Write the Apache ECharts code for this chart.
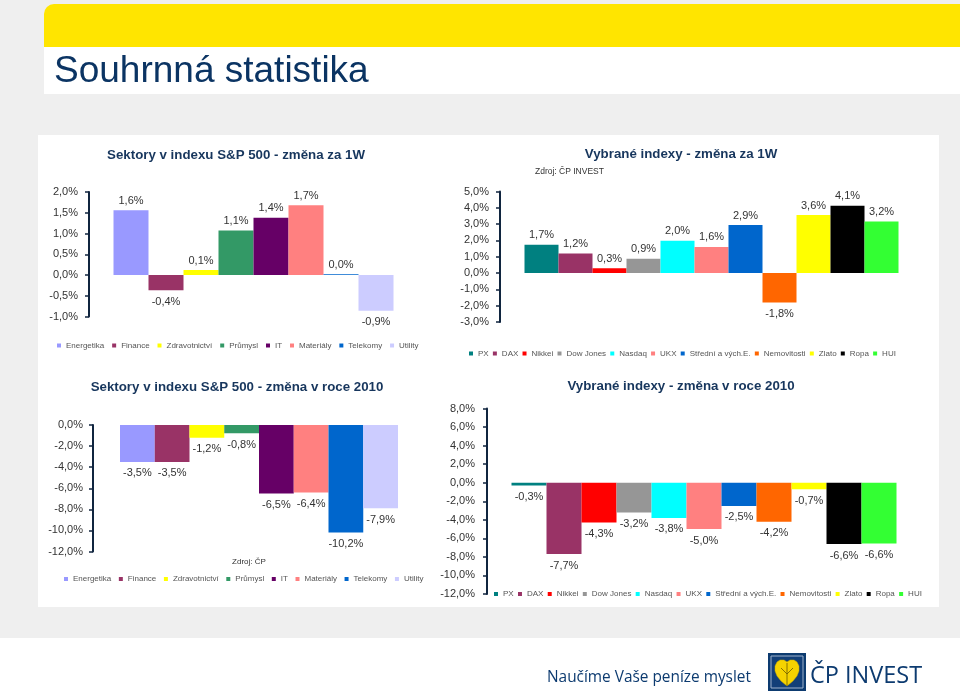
<!DOCTYPE html>
<html>
<head>
<meta charset="utf-8">
<script src="https://cdn.jsdelivr.net/npm/echarts@6/dist/echarts.min.js"></script>
<style>
html,body{margin:0;padding:0;background:#efefef;}
#c{width:960px;height:692px;}
</style>
</head>
<body>
<div id="c"></div>
<script>
// ---------- data ----------
const sectors = ['Energetika','Finance','Zdravotnictví','Průmysl','IT','Materiály','Telekomy','Utility'];
const sectorWeek = [1.56, -0.37, 0.12, 1.07, 1.38, 1.68, 0.02, -0.86];
const sectorYear = [-3.5, -3.5, -1.2, -0.78, -6.5, -6.4, -10.2, -7.9];

const indices = ['PX','DAX','Nikkei','Dow Jones','Nasdaq','UKX','Střední a vých.E.','Nemovitosti','Zlato','Ropa','HUI'];
const indexWeek = [1.74, 1.2, 0.3, 0.88, 1.98, 1.6, 2.94, -1.8, 3.56, 4.13, 3.16];
const indexYear = [-0.3, -7.7, -4.3, -3.2, -3.8, -5.0, -2.5, -4.2, -0.7, -6.62, -6.56];

const ticksSectorWeek = [-1.0, -0.5, 0.0, 0.5, 1.0, 1.5, 2.0];
const ticksIndexWeek = [-3.0, -2.0, -1.0, 0.0, 1.0, 2.0, 3.0, 4.0, 5.0];
const ticksSectorYear = [-12.0, -10.0, -8.0, -6.0, -4.0, -2.0, 0.0];
const ticksIndexYear = [-12.0, -10.0, -8.0, -6.0, -4.0, -2.0, 0.0, 2.0, 4.0, 6.0, 8.0];

// ---------- styles ----------
const sectorColors = ['#9999FF','#993366','#FFFF00','#339966','#660066','#FF8080','#0066CC','#CCCCFF'];
const indexColors = ['#008080','#993366','#FF0000','#969696','#00FFFF','#FF8080','#0066CC','#FF6600','#FFFF00','#000000','#33FF33'];
const FONT = '"Liberation Sans", Arial, sans-serif';
const NAVY = '#17365D';
const AXIS = '#10253F';

function fmt(v){
  return (v < 0 ? '-' : '') + Math.abs(v).toFixed(1).replace('.', ',') + '%';
}

const gridsDef = [
  {left: 89, top: 192, width: 329, height: 124.5, ticks: ticksSectorWeek, margin: 11, barW: 35},
  {left: 500, top: 191.5, width: 423, height: 130.5, ticks: ticksIndexWeek, margin: 11, barW: 34},
  {left: 93, top: 425, width: 332, height: 126.5, ticks: ticksSectorYear, margin: 10, barW: 34.75},
  {left: 487, top: 408.5, width: 434, height: 185.5, ticks: ticksIndexYear, margin: 12, barW: 35}
];

const grid = gridsDef.map(g => ({left: g.left, top: g.top, width: g.width, height: g.height, containLabel: false}));
const xAxis = gridsDef.map((g, i) => ({type: 'category', gridIndex: i, data: [''], show: false}));
const yAxis = gridsDef.map((g, i) => ({
  type: 'value', gridIndex: i,
  min: g.ticks[0], max: g.ticks[g.ticks.length - 1], interval: g.ticks[1] - g.ticks[0],
  axisLine: {show: true, lineStyle: {color: AXIS, width: 2}},
  axisTick: {show: true, inside: false, length: 4, lineStyle: {color: AXIS, width: 1.5}},
  splitLine: {show: false},
  axisLabel: {formatter: v => fmt(v), fontSize: 11, color: '#333', fontFamily: FONT, margin: g.margin}
}));

function bars(names, values, colors, gi){
  return names.map((n, i) => ({
    type: 'bar', name: n, xAxisIndex: gi, yAxisIndex: gi,
    barWidth: gridsDef[gi].barW, barGap: '0%',
    itemStyle: {color: colors[i]},
    label: {show: true, fontSize: 11, color: '#333', fontFamily: FONT, formatter: p => fmt(p.value)},
    data: [{value: values[i], label: {position: values[i] < 0 ? 'bottom' : 'top', distance: values[i] < 0 ? 6 : 4}}]
  }));
}

const series = [].concat(
  bars(sectors, sectorWeek, sectorColors, 0),
  bars(indices, indexWeek, indexColors, 1),
  bars(sectors, sectorYear, sectorColors, 2),
  bars(indices, indexYear, indexColors, 3)
);

function legend(data, left, top, gap){
  return {data: data, left: left, top: top, padding: 0, itemWidth: 4, itemHeight: 4, itemGap: gap,
    icon: 'rect', selectedMode: false,
    textStyle: {fontSize: 8, color: '#555', fontFamily: FONT}};
}

function txt(text, x, y, size, opts){
  return {type: 'text', z: 5, style: Object.assign({text: text, x: x, y: y, fontSize: size,
    fontFamily: FONT, fill: NAVY, align: 'center', verticalAlign: 'middle'}, opts || {})};
}

const graphic = [
  {type: 'rect', z: -10, shape: {x: 44, y: 4, width: 916, height: 43, r: [10, 0, 0, 0]}, style: {fill: '#FFE500'}},
  {type: 'rect', z: -10, shape: {x: 44, y: 47, width: 916, height: 47}, style: {fill: '#FFFFFF'}},
  {type: 'rect', z: -10, shape: {x: 38, y: 135, width: 901, height: 472}, style: {fill: '#FFFFFF'}},
  {type: 'rect', z: -10, shape: {x: 0, y: 638, width: 960, height: 54}, style: {fill: '#FFFFFF'}},
  txt('Souhrnná statistika', 54, 72, 37, {align: 'left', fill: '#0B3463'}),
  txt('Sektory v indexu S&P 500 - změna za 1W', 236, 155, 13.3, {fontWeight: 'bold'}),
  txt('Vybrané indexy - změna za 1W', 681, 154, 13.3, {fontWeight: 'bold'}),
  txt('Zdroj: ČP INVEST', 535, 172, 8.5, {align: 'left', fill: '#333'}),
  txt('Sektory v indexu S&P 500 - změna v roce 2010', 237, 387, 13.3, {fontWeight: 'bold'}),
  txt('Vybrané indexy - změna v roce 2010', 681, 386, 13.3, {fontWeight: 'bold'}),
  txt('Zdroj: ČP', 249, 562, 8, {fill: '#333'}),
  txt('Naučíme Vaše peníze myslet', 547, 678, 15.4, {align: 'left', fill: '#0D3B70', fontFamily: '"Open Sans", sans-serif'}),
  {type: 'rect', z: 5, shape: {x: 768, y: 653, width: 38, height: 38}, style: {fill: '#0D3B70'}},
  {type: 'rect', z: 6, shape: {x: 771, y: 656, width: 32, height: 32}, style: {fill: '#123F78', stroke: '#9FB3CC', lineWidth: 1}},
  {type: 'polygon', z: 7, shape: {points: [[787,686],[781,681],[777,676],[775,671],[775,666],[777,662],[780,660],[784,660],[787,662],[790,660],[794,660],[797,662],[799,666],[799,671],[797,676],[793,681]]}, style: {fill: '#F5D300', stroke: '#C9A800', lineWidth: 0.5}},
  {type: 'polyline', z: 8, shape: {points: [[787,663],[787,686]]}, style: {stroke: '#6B5A00', lineWidth: 0.8}},
  {type: 'polyline', z: 8, shape: {points: [[781,668],[787,674],[793,668]]}, style: {stroke: '#6B5A00', lineWidth: 0.8}},
  txt('ČP INVEST', 810, 676, 23.5, {align: 'left', fill: '#0D3B70', fontFamily: '"Open Sans", sans-serif'})
];

const option = {
  animation: false,
  backgroundColor: '#EFEFEF',
  grid: grid, xAxis: xAxis, yAxis: yAxis,
  legend: [
    legend(sectors, 57, 341.5, 7.9),
    legend(indices, 469, 349.5, 4.2),
    legend(sectors, 64, 575, 7.6),
    legend(indices, 494, 590, 4.3)
  ],
  graphic: graphic,
  series: series
};

const chart = echarts.init(document.getElementById('c'), null, {renderer: 'canvas'});
chart.setOption(option);
</script>
</body>
</html>
